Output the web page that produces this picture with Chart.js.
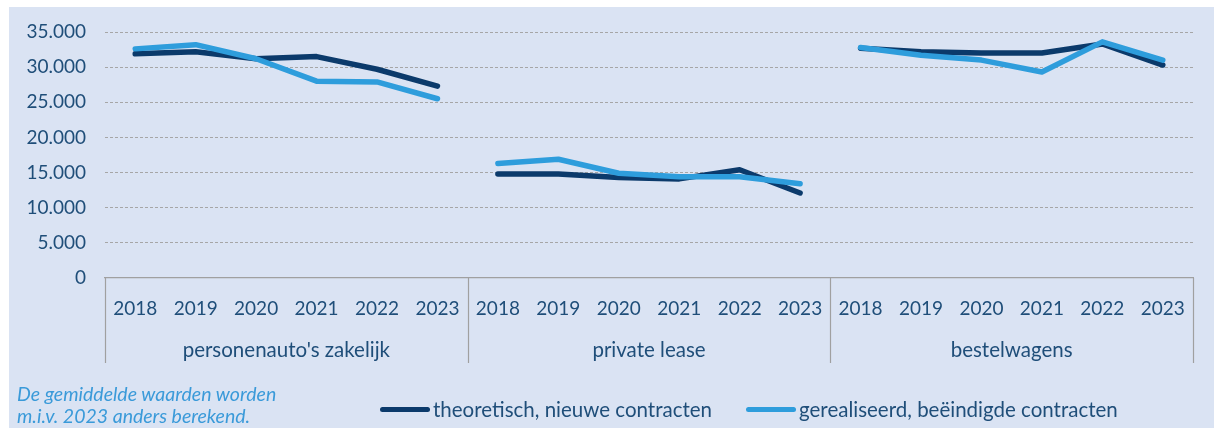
<!DOCTYPE html>
<html>
<head>
<meta charset="utf-8">
<script src="https://cdn.jsdelivr.net/npm/chart.js@4/dist/chart.umd.min.js"></script>
<style>
  html, body { margin: 0; padding: 0; background: #ffffff; }
  body { width: 1214px; height: 428px; position: relative; overflow: hidden; font-family: Lato, "Open Sans", sans-serif; }
  #panel { position: absolute; left: 9px; top: 7px; width: 1205px; height: 421px; background: #dae3f3; }
  #wrap { position: absolute; left: 0; top: 0; width: 1214px; height: 428px; }
  #note { position: absolute; left: 17px; top: 383px; font-style: italic; font-size: 19.5px; line-height: 22px; color: #3a9ad9; white-space: nowrap; }
  #legend { position: absolute; top: 398px; left: 380px; height: 22px; display: flex; align-items: center; font-size: 20.5px; color: #1f4e79; white-space: nowrap; }
  .item { display: flex; align-items: center; }
  .swatch { width: 50px; height: 5px; border-radius: 3px; margin-right: 3px; }
</style>
</head>
<body>
<div id="panel"></div>
<div id="wrap"><canvas id="c" width="1214" height="428"></canvas></div>
<div id="note">De gemiddelde waarden worden<br>m.i.v. 2023 anders berekend.</div>
<div id="legend"></div>
<script>
const groups = ["personenauto's zakelijk", "private lease", "bestelwagens"];
const years = ["2018", "2019", "2020", "2021", "2022", "2023"];
const seriesNames = ["theoretisch, nieuwe contracten", "gerealiseerd, beëindigde contracten"];
const theoretisch = [31900, 32200, 31200, 31500, 29700, 27300,
                     14800, 14800, 14300, 14100, 15400, 12100,
                     32700, 32200, 32000, 32000, 33300, 30300];
const gerealiseerd = [32600, 33200, 31200, 28000, 27900, 25500,
                      16300, 16900, 14900, 14400, 14400, 13400,
                      32800, 31700, 31000, 29300, 33600, 31000];
const yTicks = [0, 5000, 10000, 15000, 20000, 25000, 30000, 35000];

const darkColor = '#0b3a6b';
const lightColor = '#2e9ddc';
const textColor = '#1f4e79';
const font = { family: 'Lato, "Open Sans", sans-serif', size: 19 };
const groupFont = { family: 'Lato, "Open Sans", sans-serif', size: 20.5 };

const labels = [];
groups.forEach(() => years.forEach(y => labels.push(y)));

function fmt(v) {
  return String(v).replace(/\B(?=(\d{3})+(?!\d))/g, '.');
}

function segColor(color) {
  return ctx => ((ctx.p0DataIndex % years.length) === years.length - 1) ? 'rgba(0,0,0,0)' : color;
}

const dividerPlugin = {
  id: 'dividers',
  afterDraw(chart) {
    const xs = chart.scales.x;
    const ca = chart.chartArea;
    const step = xs.getPixelForValue(1) - xs.getPixelForValue(0);
    const c = chart.ctx;
    c.save();
    c.strokeStyle = '#a0a0a0';
    c.lineWidth = 1.2;
    for (let g = 0; g <= groups.length; g++) {
      let x;
      if (g < groups.length) x = xs.getPixelForValue(g * years.length) - step / 2;
      else x = xs.getPixelForValue(labels.length - 1) + step / 2;
      x = Math.round(x) + 0.5;
      c.beginPath();
      c.moveTo(x, ca.bottom);
      c.lineTo(x, ca.bottom + 85);
      c.stroke();
    }
    c.restore();
  }
};

const chart = new Chart(document.getElementById('c'), {
  type: 'line',
  data: {
    labels: labels,
    datasets: [
      {
        label: seriesNames[0], data: theoretisch, borderColor: darkColor, backgroundColor: darkColor,
        borderWidth: 5.5, pointRadius: 0, tension: 0, borderCapStyle: 'round', borderJoinStyle: 'round',
        segment: { borderColor: segColor(darkColor) }, order: 1
      },
      {
        label: seriesNames[1], data: gerealiseerd, borderColor: lightColor, backgroundColor: lightColor,
        borderWidth: 5.5, pointRadius: 0, tension: 0, borderCapStyle: 'round', borderJoinStyle: 'round',
        segment: { borderColor: segColor(lightColor) }, order: 0
      }
    ]
  },
  options: {
    responsive: false,
    animation: false,
    layout: { padding: { top: 32, left: 0, right: 21, bottom: 56 } },
    plugins: { legend: { display: false }, tooltip: { enabled: false } },
    scales: {
      y: {
        min: 0, max: 35000,
        afterBuildTicks: s => { s.ticks = yTicks.map(v => ({ value: v })); },
        afterFit: s => { s.width = 105; },
        grid: {
          drawTicks: false,
          color: ctx => ctx.tick && ctx.tick.value === 0 ? 'rgba(0,0,0,0)' : '#a6a6a6',
          lineWidth: 1
        },
        border: { display: false, dash: [3, 2] },
        ticks: { padding: 19, color: textColor, font: font, callback: v => fmt(v) }
      },
      x: {
        type: 'category',
        offset: true,
        afterFit: s => { s.height = 44; },
        grid: { display: false, drawTicks: false },
        border: { display: true, color: '#a0a0a0', width: 1.2 },
        ticks: { padding: 19, color: textColor, font: font, maxRotation: 0, autoSkip: false }
      },
      x2: {
        type: 'category',
        labels: groups,
        position: 'bottom',
        offset: true,
        afterFit: s => { s.height = 50; },
        grid: { display: false, drawTicks: false },
        border: { display: false },
        ticks: { padding: 16, color: textColor, font: groupFont, maxRotation: 0, autoSkip: false }
      }
    }
  },
  plugins: [dividerPlugin]
});

const legend = document.getElementById('legend');
chart.data.datasets.forEach((ds, i) => {
  const item = document.createElement('div');
  item.className = 'item';
  if (i > 0) item.style.marginLeft = '34px';
  const sw = document.createElement('span');
  sw.className = 'swatch';
  sw.style.background = ds.borderColor;
  const tx = document.createElement('span');
  tx.textContent = ds.label;
  item.appendChild(sw);
  item.appendChild(tx);
  legend.appendChild(item);
});
</script>
</body>
</html>
